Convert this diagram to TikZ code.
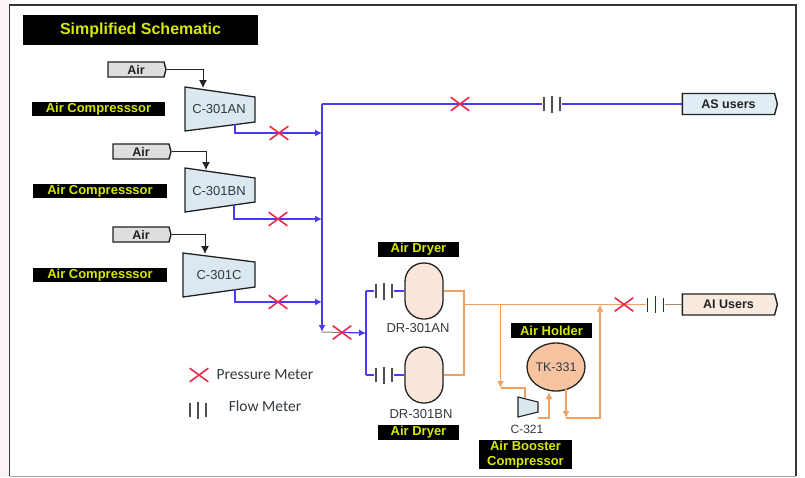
\documentclass[tikz,border=0pt]{standalone}
\usepackage{fontspec}
\setmainfont{Liberation Sans}
\newfontfamily\namefont{Carlito}
\usetikzlibrary{arrows.meta,shapes.misc,shapes.symbols,shapes.geometric}
\definecolor{pipeblue}{HTML}{4A3CF0}
\definecolor{pipeor}{HTML}{F0A060}
\definecolor{xred}{HTML}{EE2A4A}
\definecolor{labyel}{HTML}{D6E800}
\definecolor{compfill}{HTML}{DCE8F0}
\definecolor{dryfill}{HTML}{FAE6DA}
\definecolor{tankfill}{HTML}{F7C3A0}
\definecolor{airfill}{HTML}{DEDEDE}
\definecolor{asfill}{HTML}{E2EEF6}
\definecolor{aifill}{HTML}{F8EADF}
\definecolor{edge}{HTML}{222222}
\definecolor{txt}{HTML}{333A40}
\definecolor{sidepink}{HTML}{FDF3F6}
\tikzset{
  x=1pt,y=-1pt,
  lab/.style={fill=black,text=labyel,font=\bfseries\fontsize{13}{13.5}\selectfont,inner sep=0pt,align=center},
  tag/.style={signal,signal to=east,signal pointer angle=150,draw=edge,line width=1.4pt,inner sep=0pt,font=\bfseries\fontsize{12.5}{14}\selectfont,text=edge},
  airtag/.style={tag,fill=airfill,minimum width=58pt,minimum height=15pt},
  usertag/.style={tag,minimum width=95pt,minimum height=21pt},
  comp/.style={draw=edge,line width=1.3pt,fill=compfill,line join=miter},
  nm/.style={font=\fontsize{13}{15}\selectfont,text=txt,inner sep=0pt},
  pm/.style={cross out,draw=xred,line width=1.6pt,minimum width=17pt,minimum height=12pt,inner sep=0pt},
  fm/.style={minimum width=19pt,minimum height=17pt,inner sep=0pt},
  tick/.style={line width=1.5pt},
  airp/.style={draw=edge,line width=1pt,-{Latex[length=8pt,width=8pt]}},
  bl/.style={draw=pipeblue,line width=1.2pt},
  bla/.style={bl,-{Latex[length=7pt,width=7pt]}},
  orl/.style={draw=pipeor,line width=1.8pt},
  ora/.style={orl,-{Latex[length=7pt,width=7pt]}},
  vessel/.style={draw=edge,line width=1.3pt,fill=dryfill,minimum width=38pt,minimum height=56pt,inner sep=0pt,rounded corners=18.5pt},
}
\newcommand{\flowticks}[2][edge!80]{%
  \draw[tick,draw=#1] ([xshift=-8pt,yshift=-7pt]#2.center) -- ([xshift=-8pt,yshift=7pt]#2.center);
  \draw[tick,draw=#1] ([yshift=-8.5pt]#2.center) -- ([yshift=8.5pt]#2.center);
  \draw[tick,draw=#1] ([xshift=8pt,yshift=-7pt]#2.center) -- ([xshift=8pt,yshift=7pt]#2.center);}
\begin{document}
\begin{tikzpicture}
\useasboundingbox (0,0) rectangle (805,477);
\fill[white] (0,0) rectangle (805,477);
\fill[sidepink] (0,0) rectangle (9,477);
\draw[draw=edge!90,line width=1.6pt] (9.5,476) -- (9.5,5) -- (796,5) -- (796,476);
\draw[draw=gray!70,line width=1pt] (9.5,476) -- (796,476);

% Title
\node[lab,minimum width=235pt,minimum height=30pt,font=\bfseries\fontsize{16}{18}\selectfont] (title) at (140.5,30) {Simplified Schematic};

% Compressors
\draw[comp] (185,87) -- (255,97) -- (255,122) -- (185,131) -- cycle;
\node[nm] (can) at (219,109) {C-301AN};
\draw[comp] (185,168) -- (255,178) -- (255,202) -- (185,212) -- cycle;
\node[nm] (cbn) at (219,191) {C-301BN};
\draw[comp] (183,253) -- (255,262) -- (255,287) -- (183,297) -- cycle;
\node[nm] (cc) at (219,275) {C-301C};

\coordinate (canin) at (203,88);
\coordinate (cbnin) at (206,170);
\coordinate (ccin) at (205,254);
\coordinate (canout) at (235,124);
\coordinate (cbnout) at (234,205);
\coordinate (ccout) at (235,289);

\node[airtag] (air1) at (136,69.5) {Air};
\node[airtag] (air2) at (141,151.5) {Air};
\node[airtag] (air3) at (141,234.5) {Air};
\draw[airp] (air1.east) -| (canin);
\draw[airp] (air2.east) -| (cbnin);
\draw[airp] (air3.east) -| (ccin);

\node[lab,minimum width=133pt,minimum height=14pt] (l1) at (98.5,109) {Air Compresssor};
\node[lab,minimum width=134pt,minimum height=14pt] (l2) at (100,191) {Air Compresssor};
\node[lab,minimum width=134pt,minimum height=14pt] (l3) at (100,275) {Air Compresssor};

% Blue header
\coordinate (jtop) at (322,104);
\coordinate (j1) at (322,133);
\coordinate (j2) at (322,219);
\coordinate (j3) at (322,302);
\coordinate (jbot) at (322,332);
\coordinate (jdry) at (366,333);
\coordinate (jdt) at (366,291);
\coordinate (jdb) at (366,375);

\node[usertag,fill=asfill] (as) at (728.5,104) {AS users};
\node[usertag,fill=aifill] (ai) at (728.5,304.5) {AI Users};
\node[fm] (f1) at (552,104) {};
\coordinate (x5p) at (460,104);

\draw[bla] (canout) |- (j1);
\draw[bla] (cbnout) |- (j2);
\draw[bla] (ccout) |- (j3);
\draw[bl] (jtop) -- (x5p) -- (f1.west);
\draw[bl] (f1.east) -- (as.west);
\draw[bla] (jtop) -- (jbot);
\coordinate (x4p) at (342,332.5);
\draw[draw=gray,line width=1pt] (jbot) -- (x4p);
\draw[bla] (x4p) -- (jdry);
\draw[bl] (jdt) -- (jdb);

\node[pm] (x1) at (279,133) {};
\node[pm] (x2) at (278,219) {};
\node[pm] (x3) at (278,302) {};
\node[pm] (x4) at (342,332.5) {};
\node[pm] (x5) at (x5p) {};

% Dryers
\node[vessel] (d1) at (424,291) {};
\node[vessel] (d2) at (424,375) {};
\node[nm] (d1t) at (418,328) {DR-301AN};
\node[nm] (d2t) at (421,414) {DR-301BN};
\node[lab,minimum width=81pt,minimum height=15pt] (l4) at (418.5,249.5) {Air Dryer};
\node[lab,minimum width=81pt,minimum height=15pt] (l5) at (418.5,432) {Air Dryer};

\node[fm] (f2) at (384,291) {};
\node[fm] (f3) at (384,375) {};
\draw[bl] (jdt) -- (f2.west);
\draw[bl] (jdb) -- (f3.west);
\draw[bl] (f2.east) -- (d1.west);
\draw[bl] (f3.east) -- (d2.west);

% Orange network
\coordinate (oj) at (464,304.5);
\coordinate (obr) at (500.5,304.5);
\coordinate (oret) at (600,304.5);
\coordinate (otu) at (566,418);
\coordinate (ocin) at (525,398);
\coordinate (ocout) at (538,418);
\coordinate (otin) at (549,392);
\coordinate (otout) at (566,389);
\coordinate (obrend) at (500.5,388);
\coordinate (x6p) at (624,304.5);

\node[fm] (f4) at (655.5,304.5) {};

\node[ellipse,draw=edge,line width=1.3pt,fill=tankfill,minimum width=58pt,minimum height=48pt,inner sep=0pt,font=\fontsize{12.5}{14}\selectfont,text=txt] (tk) at (556,367) {TK-331};
\draw[comp,line width=1.1pt] (518,397) -- (538,402) -- (538,412) -- (518,417) -- cycle;
\node[nm,font=\fontsize{12}{14}\selectfont] (c321) at (527,429) {C-321};

\draw[orl] (d1.east) -- (464,291) -- (464,375) -- (d2.east);
\draw[orl] (oj) -- (x6p);
\draw[orl] (x6p) -- (f4.west);
\draw[draw=gray!70!pipeor,line width=1pt] (f4.east) -- (ai.west);
\draw[ora] (obr) -- (obrend);
\draw[orl] (obrend) -- (525,388) -- (ocin);
\draw[ora] (ocout) -- (549,418) -- (otin);
\draw[ora] (otout) -- (otu);
\draw[ora] (otu) -- (600,418) -- (oret);

\node[pm] (x6) at (x6p) {};
\node[lab,minimum width=81pt,minimum height=15pt] (l6) at (551.5,330.5) {Air Holder};
\node[lab,minimum width=93pt,minimum height=29pt] (l7) at (525.5,454.5) {Air Booster\\[1pt]Compressor};

% Flow meter glyphs
\flowticks{f1}
\flowticks{f2}
\flowticks{f3}
\flowticks[green!35!black]{f4}

% Legend
\node[pm] (lx) at (199,375) {};
\node[nm] (lxt) at (265,375) {\namefont\fontsize{15.5}{17}\selectfont Pressure Meter};
\node[fm] (lf) at (198,410) {};
\flowticks{lf}
\node[nm] (lft) at (265,406) {\namefont\fontsize{15.5}{17}\selectfont Flow Meter};
\end{tikzpicture}
\end{document}
